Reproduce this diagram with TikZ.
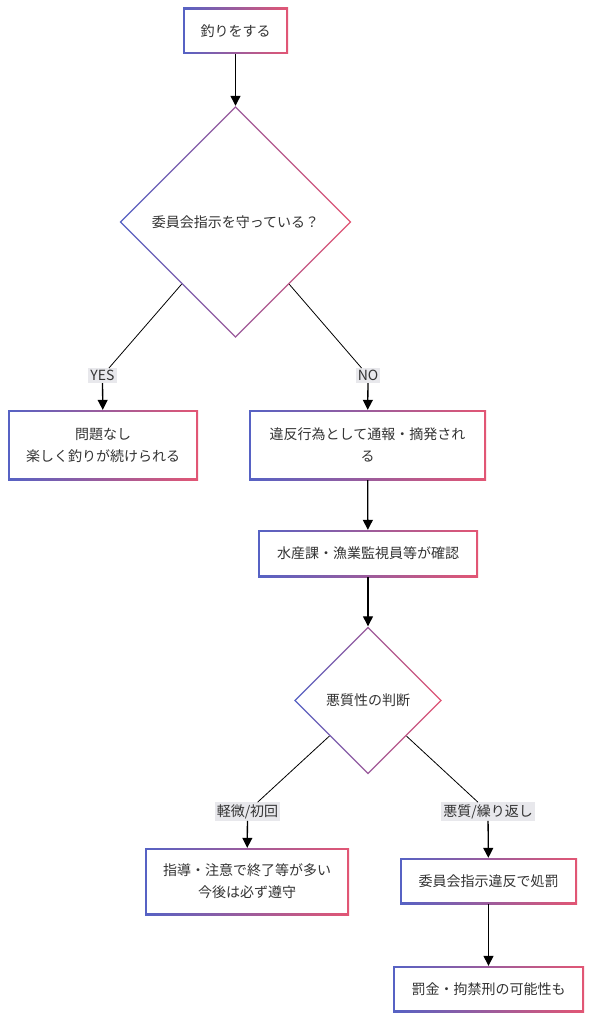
\documentclass[tikz,border=0pt]{standalone}
\usepackage{fontspec}
\setmainfont{Noto Sans CJK JP}
\usepackage{xcolor}
\usetikzlibrary{arrows.meta, shapes.geometric, positioning, calc}

\definecolor{edgeblue}{HTML}{5662C4}
\definecolor{edgered}{HTML}{E25674}
\definecolor{labelgray}{HTML}{E8E8EC}
\definecolor{textgray}{HTML}{333333}

\tikzset{
  flowtext/.style={font=\fontsize{14}{22}\selectfont, text=textgray, align=center},
  box/.style={flowtext, rectangle, inner sep=0pt,
    path picture={
      \shade[left color=edgeblue, right color=edgered]
        (path picture bounding box.south west) rectangle (path picture bounding box.north east);
      \fill[white]
        ([shift={(1.6pt,1.6pt)}]path picture bounding box.south west) rectangle
        ([shift={(-1.6pt,-1.6pt)}]path picture bounding box.north east);}},
  decision/.style={flowtext, diamond, aspect=1, inner sep=0pt,
    path picture={
      \shade[left color=edgeblue, right color=edgered]
        (path picture bounding box.south west) rectangle (path picture bounding box.north east);
      \fill[white]
        ([yshift=-2.1pt]path picture bounding box.north) --
        ([xshift=-2.1pt]path picture bounding box.east) --
        ([yshift=2.1pt]path picture bounding box.south) --
        ([xshift=2.1pt]path picture bounding box.west) -- cycle;}},
  lbl/.style={font=\fontsize{14}{16}\selectfont, text=textgray, fill=labelgray, inner sep=2pt},
  arrow/.style={line width=1.3pt, -{Triangle[width=10pt,length=10pt]}},
  branch/.style={line width=0.8pt}
}

\begin{document}
\begin{tikzpicture}[x=1pt, y=-1pt]
      \useasboundingbox (0,0) rectangle (594,1024);

      % top of the chart
      \node[box, minimum width=105pt, minimum height=46pt] (fish) at (235.5,31) {釣りをする};
      \node[decision, minimum width=232pt, minimum height=232pt] (comply) at (235.5,222) {委員会指示を守っている？};

      \node[lbl] (yes) at (102.5,375.5) {YES};
      \node[lbl] (no) at (368,375.5) {NO};

      \node[box, minimum width=190pt, minimum height=70pt] (fine) at (103,445) {問題なし\\楽しく釣りが続けられる};
      \node[box, minimum width=237pt, minimum height=70pt] (report) at (367.5,445) {違反行為として通報・摘発され\\る};
      \node[box, minimum width=220pt, minimum height=47pt] (check) at (368,553.5) {水産課・漁業監視員等が確認};

      % second decision
      \node[decision, minimum width=148pt, minimum height=148pt] (judge) at (368,700.5) {悪質性の判断};

      \node[lbl] (minor) at (247.5,811.5) {軽微/初回};
      \node[lbl] (severe) at (488,811.5) {悪質/繰り返し};

      \node[box, minimum width=204pt, minimum height=67pt] (warn) at (247,881.5) {指導・注意で終了等が多い\\今後は必ず遵守};
      \node[box, minimum width=177pt, minimum height=46pt] (punish) at (488.5,881) {委員会指示違反で処罰};
      \node[box, minimum width=191pt, minimum height=46pt] (penalty) at (488.5,989) {罰金・拘禁刑の可能性も};

      \draw[arrow] (fish) -- (comply);
      \draw[branch] (comply) -- (yes);
      \draw[arrow] (yes) -- (fine);
      \draw[branch] (comply) -- (no);
      \draw[arrow] (no) -- (report);
      \draw[arrow] (report) -- (check);
      \draw[arrow] (check) -- (judge);
      \draw[branch] (judge) -- (minor);
      \draw[arrow] (minor) -- (warn);
      \draw[branch] (judge) -- (severe);
      \draw[arrow] (severe) -- (punish);
      \draw[arrow] (punish) -- (penalty);
\end{tikzpicture}
\end{document}
